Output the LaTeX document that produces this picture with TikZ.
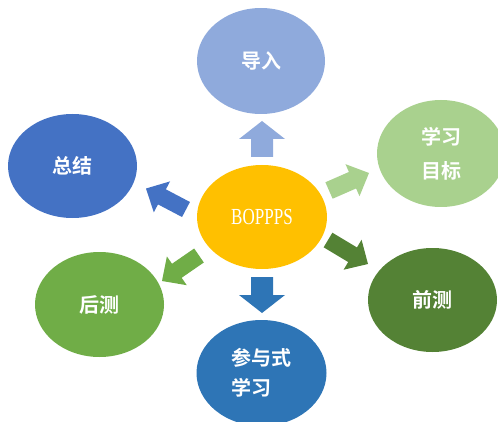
\documentclass[tikz,border=0pt]{standalone}
\usepackage{fontspec}
\usepackage{graphicx}
\usetikzlibrary{shapes.geometric,calc}
\newfontfamily\cjkfont{Noto Sans CJK SC}[BoldFont={Noto Sans CJK SC Bold}]
\newfontfamily\bopfont{Liberation Serif}
\definecolor{cCenter}{HTML}{FFC000}
\definecolor{cIntro}{HTML}{8FAADC}
\definecolor{cGoal}{HTML}{A9D18E}
\definecolor{cPre}{HTML}{548235}
\definecolor{cPart}{HTML}{2E75B6}
\definecolor{cPost}{HTML}{70AD47}
\definecolor{cSum}{HTML}{4472C4}
\tikzset{
  bubble/.style={ellipse, inner sep=0pt, minimum width=129pt, minimum height=105pt,
    text=white, font=\cjkfont\bfseries\fontsize{20}{30}\selectfont, align=center},
}
\newcommand\blockarrow[6]{%
  \fill[#6] let \p1=($(#2)-(#1)$), \n1={atan2(\y1,\x1)}, \n2={veclen(\x1,\y1)} in
    ($(#1)+({\n1+90}:#3)$)
    -- ($(#1)+({\n1}:{\n2-#5})+({\n1+90}:#3)$)
    -- ($(#1)+({\n1}:{\n2-#5})+({\n1+90}:#4)$)
    -- (#2)
    -- ($(#1)+({\n1}:{\n2-#5})+({\n1-90}:#4)$)
    -- ($(#1)+({\n1}:{\n2-#5})+({\n1-90}:#3)$)
    -- ($(#1)+({\n1-90}:#3)$) -- cycle;}
\begin{document}
\begin{tikzpicture}[x=1pt,y=1pt]
\useasboundingbox (0,0) rectangle (498,421);
\clip (0,0) rectangle (498,421);

\node[bubble, fill=cCenter, minimum width=130pt, minimum height=104pt] (center) at (262,204)
  {\bopfont\mdseries\fontsize{23}{23}\selectfont\scalebox{0.74}[1]{BOPPPS}};
\node[bubble, fill=cIntro, minimum width=128pt, minimum height=106pt] (intro) at (261,360) {导入};
\node[bubble, fill=cGoal, minimum width=128pt, minimum height=107pt] (goal) at (441,267.5) {学习\\[4pt]目标};
\node[bubble, fill=cPre, minimum width=129pt, minimum height=104pt] (pre) at (432.5,121) {前测};
\node[bubble, fill=cPart, minimum width=130pt, minimum height=106pt, align=left] (part) at (261.5,48) {参与式\\学习};
\node[bubble, fill=cPost, minimum width=129pt, minimum height=105pt] (post) at (99.5,116.5) {后测};
\node[bubble, fill=cSum, minimum width=129pt, minimum height=104pt] (sum) at (72.5,255) {总结};

\coordinate (tIntroA) at (262,264);   \coordinate (tIntroB) at (262,300);
\coordinate (tPartA) at (262,144);    \coordinate (tPartB) at (262,108);
\coordinate (tGoalA) at (329,230.5);  \coordinate (tGoalB) at (369,248);
\coordinate (tPreA) at (328,181);     \coordinate (tPreB) at (368,157);
\coordinate (tSumA) at (186,211.5);   \coordinate (tSumB) at (146,232.5);
\coordinate (tPostA) at (199,165.5);  \coordinate (tPostB) at (162,140);

\blockarrow{tIntroA}{tIntroB}{11}{23}{18}{cIntro}
\blockarrow{tPartA}{tPartB}{11}{23}{18}{cPart}
\blockarrow{tGoalA}{tGoalB}{9}{17.5}{18}{cGoal}
\blockarrow{tPreA}{tPreB}{8.5}{17.5}{18}{cPre}
\blockarrow{tSumA}{tSumB}{8.5}{17.5}{18}{cSum}
\blockarrow{tPostA}{tPostB}{8.5}{17.5}{18}{cPost}
\end{tikzpicture}
\end{document}
